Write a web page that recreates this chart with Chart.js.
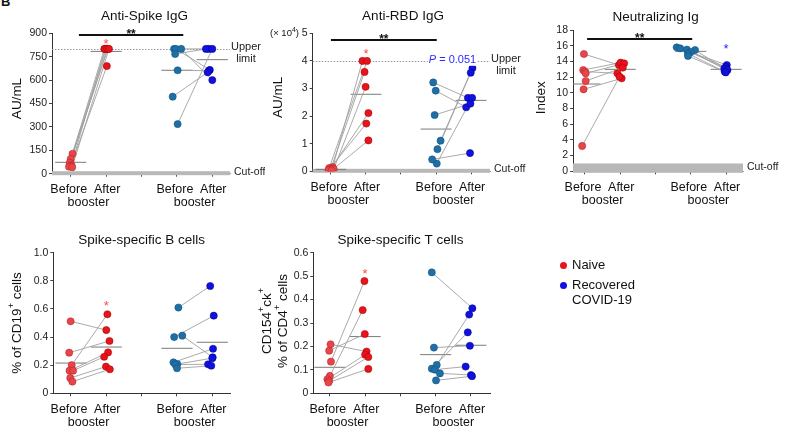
<!DOCTYPE html>
<html>
<head>
<meta charset="utf-8">
<script src="https://cdn.jsdelivr.net/npm/chart.js@4.4.0/dist/chart.umd.min.js"></script>
<style>
  body { margin: 0; background: #fff; width: 789px; height: 437px; overflow: hidden; position: relative;
         font-family: "Liberation Sans", Arial, sans-serif; color: #111; }
  canvas { position: absolute; }
  .tag { position: absolute; left: 1px; top: -6px; font-weight: bold; font-size: 13px; }
  .leg { position: absolute; font-size: 13px; line-height: 15px; }
  .dot { position: absolute; width: 7px; height: 7px; border-radius: 50%; }
</style>
</head>
<body>
<div class="tag">B</div>
<canvas id="c1" width="265" height="215" style="left:0;top:0"></canvas>
<canvas id="c2" width="270" height="215" style="left:262px;top:0"></canvas>
<canvas id="c3" width="267" height="215" style="left:522px;top:0"></canvas>
<canvas id="c4" width="265" height="217" style="left:0;top:220px"></canvas>
<canvas id="c5" width="282" height="217" style="left:250px;top:220px"></canvas>

<span class="dot" style="left:560px;top:262px;background:#e8141c"></span>
<div class="leg" style="left:572px;top:257px">Naive</div>
<span class="dot" style="left:560px;top:282px;background:#1010e0"></span>
<div class="leg" style="left:572px;top:277px">Recovered<br>COVID-19</div>

<script>
Chart.defaults.font.family = '"Liberation Sans", Arial, sans-serif'

const groupX = [1, 2, 4, 5]
const tickX = [1, 2, 3, 4, 5]

// Anti-Spike IgG (AU/mL); "after" arrays are listed in the same order as their "before" partner
const spikeNB = [128, 95, 70, 55, 50, 45, 42]
const spikeNBx = [1.05, 1.0, 0.97, 1.02, 1.0, 0.95, 1.04]
const spikeNA = [800, 800, 800, 800, 690, 800, 800]
const spikeNAx = [1.95, 2.0, 2.05, 1.97, 2.02, 2.03, 2.08]
const spikeRB = [800, 800, 800, 767, 663, 494, 318]
const spikeRBx = [3.92, 3.97, 4.12, 3.95, 4.02, 3.88, 4.02]
const spikeRA = [800, 665, 600, 800, 660, 650, 800]
const spikeRAx = [4.9, 4.93, 5.0, 4.82, 4.9, 4.87, 5.0]
const spikeMeans = [73, 784, 663, 731]

// Anti-RBD IgG (x 10^4 AU/mL)
const rbdNB = [0.15, 0.12, 0.1, 0.08, 0.06, 0.04, 0.03]
const rbdNBx = [1.05, 0.95, 1.0, 1.08, 0.98, 0.93, 1.02]
const rbdNA = [4.0, 4.0, 3.6, 3.06, 2.11, 1.73, 1.12]
const rbdNAx = [1.9, 2.03, 1.96, 1.99, 2.07, 2.01, 2.07]
const rbdRB = [3.22, 2.92, 2.04, 1.11, 0.8, 0.28, 0.43]
const rbdRBx = [3.92, 3.99, 3.96, 4.13, 4.04, 4.02, 3.89]
const rbdRA = [2.66, 2.32, 2.45, 3.74, 3.57, 2.66, 0.66]
const rbdRAx = [4.91, 4.86, 4.98, 5.04, 4.99, 5.03, 4.97]
const rbdMeans = [0.07, 2.79, 1.53, 2.57]

// Neutralizing Ig (index)
const neutNB = [14.94, 12.9, 12.7, 12.48, 11.5, 10.44, 3.23]
const neutNBx = [0.97, 0.95, 1.0, 1.02, 1.02, 0.96, 0.92]
const neutNA = [13.54, 13.84, 12.48, 13.75, 13.2, 11.84, 12.05]
const neutNAx = [1.96, 2.01, 1.92, 2.11, 2.07, 2.04, 1.98]
const neutRB = [15.79, 15.66, 15.5, 15.45, 15.2, 15.0, 14.7]
const neutRBx = [3.6, 3.7, 3.89, 4.12, 4.0, 3.92, 3.92]
const neutRA = [13.54, 13.3, 13.1, 13.0, 12.9, 12.7, 12.6]
const neutRAx = [5.02, 4.99, 4.95, 5.0, 5.04, 4.96, 4.99]
const neutMeans = [11.12, 12.99, 15.28, 12.99]

// Spike-specific B cells (% of CD19+)
const bNB = [0.512, 0.289, 0.2, 0.161, 0.161, 0.109, 0.083]
const bNBx = [0.99, 0.95, 1.02, 0.96, 1.06, 0.98, 1.04]
const bNA = [0.45, 0.372, 0.562, 0.291, 0.26, 0.19, 0.171]
const bNAx = [2.0, 2.09, 2.03, 2.05, 1.94, 1.99, 2.1]
const bRB = [0.61, 0.40, 0.41, 0.22, 0.208, 0.205, 0.178]
const bRBx = [4.04, 3.92, 4.15, 3.9, 4.01, 3.95, 4.0]
const bRA = [0.763, 0.552, 0.256, 0.317, 0.25, 0.206, 0.196]
const bRAx = [4.94, 5.04, 5.01, 5.02, 5.0, 4.88, 4.97]
const bMeans = [0.215, 0.329, 0.32, 0.363]

// Spike-specific T cells (% of CD4+)
const tNB = [0.209, 0.182, 0.135, 0.074, 0.06, 0.053, 0.046]
const tNBx = [1.02, 0.98, 1.03, 1.0, 0.93, 0.98, 0.96]
const tNA = [0.178, 0.253, 0.479, 0.355, 0.165, 0.155, 0.104]
const tNAx = [2.04, 1.99, 1.98, 1.93, 2.0, 2.09, 2.09]
const tRB = [0.516, 0.195, 0.121, 0.105, 0.101, 0.085, 0.055]
const tRBx = [3.89, 3.95, 4.03, 3.89, 3.98, 4.12, 4.01]
const tRA = [0.363, 0.203, 0.336, 0.26, 0.114, 0.078, 0.073]
const tRAx = [5.04, 4.97, 4.95, 4.91, 4.85, 5.0, 5.03]
const tMeans = [0.111, 0.242, 0.165, 0.205]

const FONT = '"Liberation Sans", Arial, sans-serif'
const col = {
  nb: '#e8454a', nbE: '#b02020',
  na: '#e8141c', naE: '#a00000',
  rb: '#1f6fa5', rbE: '#0f4f80',
  ra: '#1010e0', raE: '#00008a'
}

function pts(xs, ys) { return ys.map((v, i) => ({ x: xs[i], y: v })) }

function pairs(bx, by, ax, ay) {
  const out = []
  by.forEach((v, i) => { out.push({ x: bx[i], y: v }, { x: ax[i], y: ay[i] }, { x: null, y: null }) })
  return out
}

function meanSegs(means) {
  const out = []
  means.forEach((m, i) => { out.push({ x: groupX[i] - 0.44, y: m }, { x: groupX[i] + 0.44, y: m }, { x: null, y: null }) })
  return out
}

// rotated text with optional superscript parts
function drawRotated(ctx, cx, cy, parts, size) {
  const f = size + 'px ' + FONT, fs = Math.round(size * 0.7) + 'px ' + FONT
  let w = 0
  parts.forEach(p => { ctx.font = p.sup ? fs : f; w += ctx.measureText(p.t).width })
  ctx.save()
  ctx.translate(cx, cy)
  ctx.rotate(-Math.PI / 2)
  ctx.textBaseline = 'middle'
  ctx.textAlign = 'left'
  let x = -w / 2
  parts.forEach(p => {
    ctx.font = p.sup ? fs : f
    ctx.fillText(p.t, x, p.sup ? -size * 0.4 : 0)
    x += ctx.measureText(p.t).width
  })
  ctx.restore()
}

function panelPlugin(p) {
  return {
    id: 'panel',
    beforeDatasetsDraw(chart) {
      const { ctx, chartArea: a, scales: { x, y } } = chart
      ctx.save()
      if (p.cutoff != null) {
        const y0 = y.getPixelForValue(0)
        const y1 = Math.min(y.getPixelForValue(p.cutoff), y0 - 2.5)
        ctx.fillStyle = '#b8b8b8'
        ctx.fillRect(a.left, y1, a.right - a.left, y0 - y1 + 1.5)
        ctx.fillStyle = '#222'
        ctx.font = '10.5px ' + FONT
        ctx.textAlign = 'left'
        ctx.textBaseline = 'middle'
        ctx.fillText('Cut-off', a.right + 4, Math.min((y0 + y1) / 2, y0 - 2))
      }
      if (p.upper != null) {
        const yu = Math.round(y.getPixelForValue(p.upper)) + 0.5
        ctx.strokeStyle = '#9a9a9a'
        ctx.lineWidth = 1
        ctx.setLineDash([1.5, 1.5])
        ctx.beginPath(); ctx.moveTo(a.left, yu); ctx.lineTo(a.right, yu); ctx.stroke()
        ctx.setLineDash([])
        ctx.fillStyle = '#222'
        ctx.font = '11px ' + FONT
        ctx.textAlign = 'center'
        ctx.textBaseline = 'middle'
        ctx.fillText('Upper', a.right + 16, yu - 3)
        ctx.fillText('limit', a.right + 16, yu + 9)
      }
      ctx.restore()
    },
    afterDatasetsDraw(chart) {
      const { ctx, scales: { x, y } } = chart
      ctx.save()
      if (p.sig) {
        const ys = y.getPixelForValue(p.sig.y)
        ctx.strokeStyle = '#111'
        ctx.lineWidth = 2
        ctx.beginPath(); ctx.moveTo(x.getPixelForValue(p.sig.x1), ys); ctx.lineTo(x.getPixelForValue(p.sig.x2), ys); ctx.stroke()
        ctx.fillStyle = '#111'
        ctx.font = 'bold 12px ' + FONT
        ctx.textAlign = 'center'
        ctx.textBaseline = 'alphabetic'
        ctx.fillText('**', x.getPixelForValue((p.sig.x1 + p.sig.x2) / 2), ys + 3)
      }
      if (p.star) {
        ctx.fillStyle = p.star.color
        ctx.font = '13px ' + FONT
        ctx.textAlign = 'center'
        ctx.textBaseline = 'alphabetic'
        ctx.fillText('*', x.getPixelForValue(p.star.x), y.getPixelForValue(p.star.y) + 7.5)
      }
      if (p.pval) {
        const px = x.getPixelForValue(p.pval.x), py = y.getPixelForValue(p.pval.y)
        ctx.font = '11px ' + FONT
        const rest = ' = 0.051'
        const wr = ctx.measureText(rest).width
        ctx.font = 'italic 11px ' + FONT
        const wp = ctx.measureText('P').width
        const x0 = px - (wp + wr) / 2
        ctx.fillStyle = '#fff'
        ctx.fillRect(x0 - 1, py - 6, wp + wr + 2, 12)
        ctx.fillStyle = '#2b2bff'
        ctx.textAlign = 'left'
        ctx.textBaseline = 'middle'
        ctx.fillText('P', x0, py)
        ctx.font = '11px ' + FONT
        ctx.fillText(rest, x0 + wp, py)
      }
      ctx.restore()
    },
    afterDraw(chart) {
      const { ctx, chartArea: a, scales: { x } } = chart
      ctx.save()
      ctx.fillStyle = '#111'
      ctx.font = '13.5px ' + FONT
      ctx.textAlign = 'center'
      ctx.textBaseline = 'middle'
      ctx.fillText(p.title, x.getPixelForValue(3) + p.titleDx, p.titleY)

      ctx.font = '12.5px ' + FONT
      ;[1, 2, 4, 5].forEach((v, i) => {
        ctx.fillText(i % 2 === 0 ? 'Before' : 'After', x.getPixelForValue(v) + (i % 2 === 0 ? -2 : 1), a.bottom + 16)
      })
      ctx.fillText('booster', x.getPixelForValue(1.5), a.bottom + 29)
      ctx.fillText('booster', x.getPixelForValue(4.5), a.bottom + 29)

      p.yTitle.forEach(line => drawRotated(ctx, line.x, (a.top + a.bottom) / 2 + (line.dy || 0), line.parts, 13.5))

      if (p.scaleNote) {
        ctx.textAlign = 'left'
        ctx.textBaseline = 'middle'
        ctx.font = '9.5px ' + FONT
        const w1 = ctx.measureText('(× 10').width
        ctx.fillText('(× 10', p.scaleNote.x, a.top)
        ctx.font = '7px ' + FONT
        ctx.fillText('4', p.scaleNote.x + w1, a.top - 3)
        const w2 = ctx.measureText('4').width
        ctx.font = '9.5px ' + FONT
        ctx.fillText(')', p.scaleNote.x + w1 + w2, a.top)
      }
      ctx.restore()
    }
  }
}

function makePanel(id, p) {
  new Chart(document.getElementById(id), {
    type: 'scatter',
    data: {
      datasets: [
        { data: pts(p.nbx, p.nb), backgroundColor: col.nb, borderColor: col.nbE, borderWidth: 0.5, pointRadius: 3.6, order: 1 },
        { data: pts(p.nax, p.na), backgroundColor: col.na, borderColor: col.naE, borderWidth: 0.5, pointRadius: 3.6, order: 1 },
        { data: pts(p.rbx, p.rb), backgroundColor: col.rb, borderColor: col.rbE, borderWidth: 0.5, pointRadius: 3.6, order: 1 },
        { data: pts(p.rax, p.ra), backgroundColor: col.ra, borderColor: col.raE, borderWidth: 0.5, pointRadius: 3.6, order: 1 },
        { data: pairs(p.nbx, p.nb, p.nax, p.na), showLine: true, borderColor: '#a0a0a0', borderWidth: 0.9, pointRadius: 0, order: 5 },
        { data: pairs(p.rbx, p.rb, p.rax, p.ra), showLine: true, borderColor: '#a0a0a0', borderWidth: 0.9, pointRadius: 0, order: 5 },
        { data: meanSegs(p.means), showLine: true, borderColor: '#7a7a7a', borderWidth: 1, pointRadius: 0, order: 6 }
      ]
    },
    options: {
      responsive: false,
      animation: false,
      events: [],
      layout: { autoPadding: false, padding: { left: 0, top: p.padTop, right: p.padRight, bottom: 0 } },
      plugins: { legend: { display: false }, tooltip: { enabled: false } },
      scales: {
        x: {
          type: 'linear', min: p.xMin, max: p.xMax,
          afterBuildTicks: s => { s.ticks = tickX.map(v => ({ value: v })) },
          afterFit: s => { s.height = p.axisH },
          ticks: { callback: () => '' },
          grid: { drawOnChartArea: false, tickLength: 3, color: '#444' },
          border: { color: p.xBorder, width: 1 }
        },
        y: {
          min: p.yMin, max: p.yMax,
          afterFit: s => { s.width = p.axisW },
          ticks: { stepSize: p.step, color: '#222', padding: 2, font: { size: 10.5 } },
          grid: { drawOnChartArea: false, tickLength: 3, color: '#444' },
          border: { color: '#333', width: 1 }
        }
      }
    },
    plugins: [panelPlugin(p)]
  })
}

makePanel('c1', {
  nb: spikeNB, nbx: spikeNBx, na: spikeNA, nax: spikeNAx, rb: spikeRB, rbx: spikeRBx, ra: spikeRA, rax: spikeRAx, means: spikeMeans,
  title: 'Anti-Spike IgG', titleY: 16, titleDx: 3,
  axisW: 52, axisH: 41.3, padTop: 33.3, padRight: 35,
  xMin: 0.47, xMax: 5.5, yMin: 0, yMax: 900, step: 150, xBorder: '#999',
  cutoff: 0, upper: 800,
  sig: { x1: 1.23, x2: 4.18, y: 889 },
  star: { x: 2, y: 857, color: '#ff4a4a' },
  yTitle: [{ x: 17.5, dy: -5, parts: [{ t: 'AU/mL' }] }]
})

makePanel('c2', {
  nb: rbdNB, nbx: rbdNBx, na: rbdNA, nax: rbdNAx, rb: rbdRB, rbx: rbdRBx, ra: rbdRA, rax: rbdRAx, means: rbdMeans,
  title: 'Anti-RBD IgG', titleY: 16, titleDx: 2,
  axisW: 50.7, axisH: 43.7, padTop: 33.3, padRight: 42,
  xMin: 0.48, xMax: 5.54, yMin: 0, yMax: 5, step: 1, xBorder: '#999',
  cutoff: 0, upper: 4,
  sig: { x1: 1.0, x2: 4.02, y: 4.76 },
  star: { x: 2, y: 4.37, color: '#ff4a4a' },
  pval: { x: 4.47, y: 4.04 },
  scaleNote: { x: 8 },
  yTitle: [{ x: 16.5, dy: -5, parts: [{ t: 'AU/mL' }] }]
})

makePanel('c3', {
  nb: neutNB, nbx: neutNBx, na: neutNA, nax: neutNAx, rb: neutRB, rbx: neutRBx, ra: neutRA, rax: neutRAx, means: neutMeans,
  title: 'Neutralizing Ig', titleY: 17, titleDx: 0,
  axisW: 51, axisH: 43.7, padTop: 30, padRight: 46,
  xMin: 0.66, xMax: 5.48, yMin: 0, yMax: 18, step: 2, xBorder: '#999',
  cutoff: 1,
  sig: { x1: 1.06, x2: 4.04, y: 16.85 },
  star: { x: 5, y: 16.0, color: '#2b2bff' },
  yTitle: [{ x: 19.5, dy: -3, parts: [{ t: 'Index' }] }]
})

makePanel('c4', {
  nb: bNB, nbx: bNBx, na: bNA, nax: bNAx, rb: bRB, rbx: bRBx, ra: bRA, rax: bRAx, means: bMeans,
  title: 'Spike-specific B cells', titleY: 20, titleDx: 0,
  axisW: 53.3, axisH: 43.7, padTop: 32.7, padRight: 35,
  xMin: 0.5, xMax: 5.5, yMin: 0, yMax: 1, step: 0.2, xBorder: '#333',
  sig: null,
  star: { x: 2, y: 0.644, color: '#ff4a4a' },
  yTitle: [{ x: 17, dy: 0, parts: [{ t: '% of CD19' }, { t: '+', sup: true }, { t: ' cells' }] }]
})

makePanel('c5', {
  nb: tNB, nbx: tNBx, na: tNA, nax: tNAx, rb: tRB, rbx: tRBx, ra: tRA, rax: tRAx, means: tMeans,
  title: 'Spike-specific T cells', titleY: 20, titleDx: 0,
  axisW: 63.3, axisH: 43.7, padTop: 32.7, padRight: 42,
  xMin: 0.53, xMax: 5.54, yMin: 0, yMax: 0.6, step: 0.1, xBorder: '#333',
  sig: null,
  star: { x: 2, y: 0.523, color: '#ff4a4a' },
  yTitle: [
    { x: 17, dy: -2, parts: [{ t: 'CD154' }, { t: '+', sup: true }, { t: 'ck' }, { t: '+', sup: true }] },
    { x: 33, dy: -2, parts: [{ t: '% of CD4' }, { t: '+', sup: true }, { t: ' cells' }] }
  ]
})
</script>
</body>
</html>
